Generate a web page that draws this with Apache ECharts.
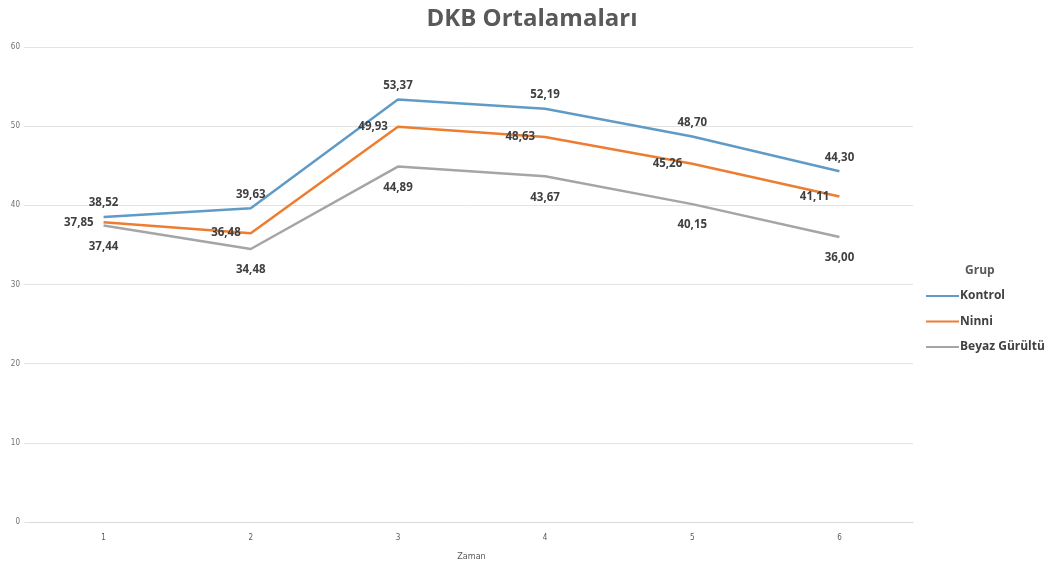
<!DOCTYPE html>
<html>
<head>
<meta charset="utf-8">
<script src="https://cdn.jsdelivr.net/npm/echarts@6/dist/echarts.min.js"></script>
<style>
  html, body { margin: 0; padding: 0; background: #fff; }
  #chart { width: 1054px; height: 566px; }
</style>
</head>
<body>
<div id="chart"></div>
<script>
// Zaman (time points)
const categories = ['1', '2', '3', '4', '5', '6'];
// DKB means per group
const kontrol = [38.52, 39.63, 53.37, 52.19, 48.70, 44.30];
const ninni = [37.85, 36.48, 49.93, 48.63, 45.26, 41.11];
const beyazGurultu = [37.44, 34.48, 44.89, 43.67, 40.15, 36.00];
const yTicks = [0, 10, 20, 30, 40, 50, 60];

const fmt = v => v.toFixed(2).replace('.', ',');
const labelStyle = { color: '#404040', fontSize: 11.5, fontWeight: 'bold', fontFamily: 'Open Sans' };

function lineSeries(name, data, color, pos, dist) {
  return {
    name, type: 'line', data,
    symbol: 'circle', symbolSize: 0, showSymbol: true,
    lineStyle: { color, width: 2.5 },
    itemStyle: { color },
    label: {
      show: true, position: pos, distance: dist,
      formatter: p => fmt(p.value), ...labelStyle
    }
  };
}

const chart = echarts.init(document.getElementById('chart'));
chart.setOption({
  animation: false,
  backgroundColor: '#fff',
  title: [
    { text: 'DKB Ortalamaları', left: 527, textAlign: 'center', top: 2,
      textStyle: { fontSize: 24, fontWeight: 'bold', color: '#595959', fontFamily: 'Open Sans' } },
    { text: 'Grup', left: 960, top: 260,
      textStyle: { fontSize: 12, fontWeight: 'bold', color: '#595959', fontFamily: 'Open Sans' } }
  ],
  legend: {
    orient: 'vertical', left: 921, top: 285,
    itemWidth: 33, itemHeight: 2, itemGap: 13.5,
    icon: 'rect',
    textStyle: { fontSize: 12, fontWeight: 'bold', color: '#404040', fontFamily: 'Open Sans', padding: [0, 0, 0, -4] },
    data: ['Kontrol', 'Ninni', 'Beyaz Gürültü']
  },
  grid: { left: 30, right: 141, top: 47, bottom: 43, containLabel: false },
  xAxis: {
    type: 'category', data: categories, boundaryGap: true,
    name: 'Zaman', nameLocation: 'middle', nameGap: 30,
    nameTextStyle: { fontSize: 9, color: '#595959', fontFamily: 'DejaVu Sans Condensed' },
    axisLine: { show: true, lineStyle: { color: '#d9d9d9' } },
    axisTick: { show: false },
    axisLabel: { fontSize: 8, color: '#595959', margin: 12, fontFamily: 'DejaVu Sans Condensed' }
  },
  yAxis: {
    type: 'value', min: 0, max: 60, interval: 10,
    axisLine: { show: false },
    axisTick: { show: true, length: 6, lineStyle: { color: '#e3e3e3' } },
    splitLine: { lineStyle: { color: '#e3e3e3', width: 1 } },
    axisLabel: { fontSize: 8, color: '#707070', margin: 10, fontFamily: 'DejaVu Sans Condensed',
      formatter: v => yTicks.includes(v) ? String(v) : '' }
  },
  series: [
    lineSeries('Kontrol', kontrol, '#5f9bc6', 'top', 8),
    lineSeries('Ninni', ninni, '#ed7d31', 'left', 10),
    lineSeries('Beyaz Gürültü', beyazGurultu, '#a5a5a5', 'bottom', 15)
  ]
});
</script>
</body>
</html>
